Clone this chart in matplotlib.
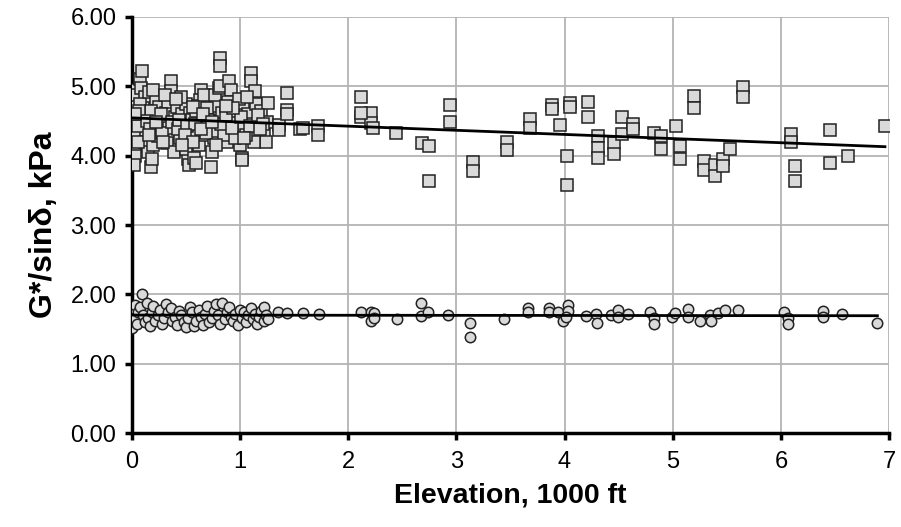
import numpy as np
import matplotlib
matplotlib.use("Agg")
import matplotlib.pyplot as plt

# G*/sin(delta) at high temperature grade (squares)
sq_elev = [
    0.00, 0.00, 0.01, 0.01, 0.02, 0.02, 0.03, 0.03, 0.02, 0.04, 0.05, 0.04, 0.05,
    0.08, 0.10, 0.09, 0.12, 0.11, 0.10, 0.13, 0.12, 0.15, 0.14, 0.08, 0.16,
    0.18, 0.19, 0.20, 0.21, 0.22, 0.23, 0.20, 0.25, 0.24, 0.26, 0.18,
    0.30, 0.32, 0.34, 0.36, 0.36, 0.38, 0.33, 0.40, 0.39, 0.31, 0.42, 0.35,
    0.45, 0.47, 0.48, 0.50, 0.52, 0.53, 0.50, 0.55, 0.46, 0.54, 0.56,
    0.58, 0.60, 0.62, 0.64, 0.63, 0.65, 0.66, 0.60, 0.68, 0.61, 0.67,
    0.72, 0.73, 0.74, 0.75, 0.76, 0.78, 0.80, 0.79, 0.77, 0.70,
    0.82, 0.82, 0.81, 0.82, 0.84, 0.86, 0.88, 0.90, 0.92, 0.89, 0.85, 0.91,
    0.95, 0.97, 0.98, 1.00, 1.02, 1.02, 1.03, 1.05, 0.99, 1.04, 0.96,
    1.10, 1.10, 1.08, 1.12, 1.14, 1.15, 1.16, 1.18, 1.20, 1.22, 1.24, 1.26, 1.25, 1.13,
    1.36, 1.36, 1.44, 1.44, 1.44, 1.56, 1.58, 1.72, 1.72,
    0.06, 0.07, 0.14, 0.17, 0.27, 0.28, 0.37, 0.43, 0.44, 0.51, 0.57, 0.59, 0.69, 0.71,
    0.83, 0.87, 0.93, 1.01, 1.06, 1.09, 1.17, 1.21, 0.29, 0.41, 0.49, 0.57, 0.66, 0.78,
    0.94, 1.07, 0.03, 0.06, 0.16, 0.23, 0.47, 0.64, 0.74, 0.87, 1.19, 1.04,
    2.12, 2.12, 2.21, 2.21, 2.23, 2.12, 2.44, 2.68, 2.75, 2.75, 2.94, 2.94,
    3.15, 3.15, 3.47, 3.47, 3.68, 3.68, 3.88, 3.88, 3.96, 4.05, 4.05, 4.02, 4.02,
    4.22, 4.22, 4.31, 4.31, 4.31, 4.46, 4.46, 4.53, 4.53, 4.63, 4.63,
    4.83, 4.89, 4.89, 5.03, 5.07, 5.07, 5.20, 5.20, 5.29, 5.29, 5.39, 5.39,
    5.46, 5.46, 5.53, 5.65, 5.65, 6.09, 6.09, 6.13, 6.13, 6.45, 6.45, 6.62, 6.96,
]
sq_gsin = [
    4.95, 4.80, 4.62, 4.50, 4.38, 4.25, 4.12, 4.00, 3.86, 4.72, 4.55, 4.30, 4.88,
    5.10, 5.22, 4.98, 4.85, 4.68, 4.45, 4.35, 4.20, 4.05, 4.60, 4.75, 4.92,
    3.84, 3.95, 4.15, 4.40, 4.58, 4.82, 4.95, 4.70, 4.28, 4.50, 4.65,
    4.45, 4.62, 4.78, 5.08, 4.93, 4.30, 4.18, 4.55, 4.05, 4.88, 4.70, 4.40,
    4.25, 4.60, 4.48, 4.75, 3.95, 3.87, 4.10, 4.35, 4.85, 4.62, 4.52,
    3.97, 3.90, 4.15, 4.95, 4.80, 4.45, 4.30, 4.65, 4.55, 4.72, 4.88,
    4.40, 3.84, 4.05, 4.60, 4.25, 4.72, 4.50, 4.35, 4.88, 4.68,
    5.41, 5.29, 4.97, 5.00, 4.62, 4.42, 4.20, 5.07, 4.95, 4.78, 4.30, 4.55,
    4.48, 4.65, 4.35, 4.15, 3.96, 3.93, 4.72, 4.58, 4.82, 4.40, 4.25,
    5.19, 5.07, 4.60, 4.45, 4.93, 4.75, 4.30, 4.52, 4.65, 4.30, 4.20, 4.76, 4.48, 4.20,
    4.44, 4.37, 4.90, 4.66, 4.60, 4.38, 4.40, 4.43, 4.30,
    4.42, 4.65, 4.50, 4.38, 4.60, 4.32, 4.48, 4.38, 4.52, 4.42, 4.70, 4.45, 4.32, 4.52,
    4.45, 4.58, 4.40, 4.55, 4.30, 4.42, 4.58, 4.45, 4.20, 4.82, 4.30, 4.20, 4.60, 4.15,
    4.68, 4.85, 4.60, 4.20, 4.30, 4.48, 4.15, 4.38, 4.48, 4.72, 4.38, 4.25,
    4.85, 4.55, 4.62, 4.47, 4.40, 4.62, 4.33, 4.18, 4.14, 3.64, 4.73, 4.48,
    3.91, 3.78, 4.19, 4.08, 4.53, 4.40, 4.73, 4.67, 4.44, 4.76, 4.70, 3.99, 3.58,
    4.78, 4.56, 4.29, 4.11, 3.96, 4.18, 4.03, 4.56, 4.31, 4.45, 4.39,
    4.33, 4.28, 4.09, 4.42, 4.14, 3.95, 4.86, 4.69, 3.92, 3.79, 3.87, 3.71,
    3.95, 3.85, 4.09, 4.99, 4.84, 4.31, 4.19, 3.85, 3.64, 4.37, 3.90, 4.00, 4.42,
]

# G*/sin(delta) at the lower grade (circles)
ci_elev = [
    0.00, 0.00, 0.01, 0.02, 0.03, 0.02, 0.05, 0.06, 0.08, 0.10, 0.11, 0.12, 0.14, 0.15,
    0.17, 0.19, 0.20, 0.22, 0.24, 0.26, 0.28, 0.30, 0.32, 0.34, 0.36, 0.37, 0.40, 0.42,
    0.44, 0.46, 0.48, 0.50, 0.52, 0.54, 0.56, 0.58, 0.60, 0.62, 0.64, 0.66, 0.68, 0.70,
    0.72, 0.74, 0.76, 0.78, 0.80, 0.82, 0.84, 0.86, 0.88, 0.90, 0.92, 0.94, 0.96, 0.98,
    1.00, 1.02, 1.04, 1.06, 1.08, 1.10, 1.12, 1.14, 1.16, 1.18, 1.20, 1.22, 1.22, 1.24, 1.26,
    1.35, 1.44, 1.58, 1.73, 2.12, 2.21, 2.21,
    2.24, 2.24, 2.45, 2.67, 2.67, 2.74, 2.92, 3.13, 3.13, 3.44, 3.66, 3.66, 3.86, 3.86,
    3.94, 4.03, 4.03, 3.99, 4.01, 4.20, 4.29, 4.30, 4.43, 4.49, 4.49, 4.59, 4.79, 4.83,
    4.83, 4.99, 5.02, 5.14, 5.14, 5.25, 5.34, 5.35, 5.42, 5.48, 5.60, 6.03, 6.06, 6.06,
    6.39, 6.39, 6.56, 6.89,
]
ci_gsin = [
    1.52, 1.62, 1.70, 1.78, 1.85, 1.66, 1.58, 1.74, 1.82, 2.00, 1.70, 1.60, 1.88, 1.66,
    1.55, 1.75, 1.84, 1.62, 1.70, 1.78, 1.58, 1.66, 1.86, 1.74, 1.80, 1.62, 1.68, 1.56,
    1.76, 1.70, 1.60, 1.53, 1.66, 1.82, 1.74, 1.54, 1.62, 1.78, 1.68, 1.56, 1.72, 1.84,
    1.60, 1.66, 1.76, 1.86, 1.70, 1.58, 1.88, 1.64, 1.74, 1.82, 1.68, 1.62, 1.72, 1.56,
    1.78, 1.66, 1.74, 1.60, 1.70, 1.80, 1.64, 1.72, 1.58, 1.68, 1.76, 1.82, 1.61, 1.70, 1.65,
    1.74, 1.73, 1.73, 1.72, 1.74, 1.74, 1.62,
    1.73, 1.66, 1.64, 1.88, 1.69, 1.74, 1.70, 1.59, 1.38, 1.64, 1.81, 1.74, 1.81, 1.75,
    1.74, 1.85, 1.76, 1.61, 1.68, 1.69, 1.72, 1.59, 1.70, 1.77, 1.67, 1.72, 1.74, 1.66,
    1.57, 1.67, 1.73, 1.79, 1.68, 1.62, 1.70, 1.62, 1.73, 1.78, 1.78, 1.74, 1.66, 1.58,
    1.76, 1.67, 1.72, 1.59,
]

x_ticks = [0, 1, 2, 3, 4, 5, 6, 7]
y_ticks = [0, 1, 2, 3, 4, 5, 6]

plt.rcParams["font.family"] = ["Liberation Sans", "DejaVu Sans"]

fig = plt.figure(figsize=(9.01, 5.27), dpi=100)
ax = fig.add_axes([0.146, 0.178, 0.841, 0.790])

ax.plot(sq_elev, sq_gsin, ls="none", marker="s", ms=8, mfc="#dadada",
        mec="#222222", mew=1.1, zorder=3)
ax.plot(ci_elev, ci_gsin, ls="none", marker="o", ms=7.5, mfc="#dadada",
        mec="#222222", mew=1.1, zorder=3)

# linear trend lines, as in the spreadsheet chart
for xs, ys in ((sq_elev, sq_gsin), (ci_elev, ci_gsin)):
    k, b = np.polyfit(xs, ys, 1)
    xx = np.array([0, max(xs)])
    ax.plot(xx, k * xx + b, color="black", lw=2, zorder=4)

ax.set_xlim(0, 7)
ax.set_ylim(0, 6)
ax.set_xticks(x_ticks)
ax.set_yticks(y_ticks)
ax.set_yticklabels([f"{v:.2f}" for v in y_ticks])
ax.grid(True, color="#b4b4b4", lw=1.3)
ax.set_axisbelow(True)

for s in ("top", "right"):
    ax.spines[s].set_visible(False)
for s in ("left", "bottom"):
    ax.spines[s].set_linewidth(2.5)
ax.tick_params(direction="out", length=5, width=2.5, labelsize=17)
ax.tick_params(axis="x", pad=8)
ax.tick_params(axis="y", pad=6)

ax.set_xlabel("Elevation, 1000 ft", fontsize=20.5, fontweight="bold", labelpad=7)
ax.set_ylabel("G*/sinδ, kPa", fontsize=23, fontweight="bold", labelpad=8)

fig.savefig("out.png", dpi=100)
